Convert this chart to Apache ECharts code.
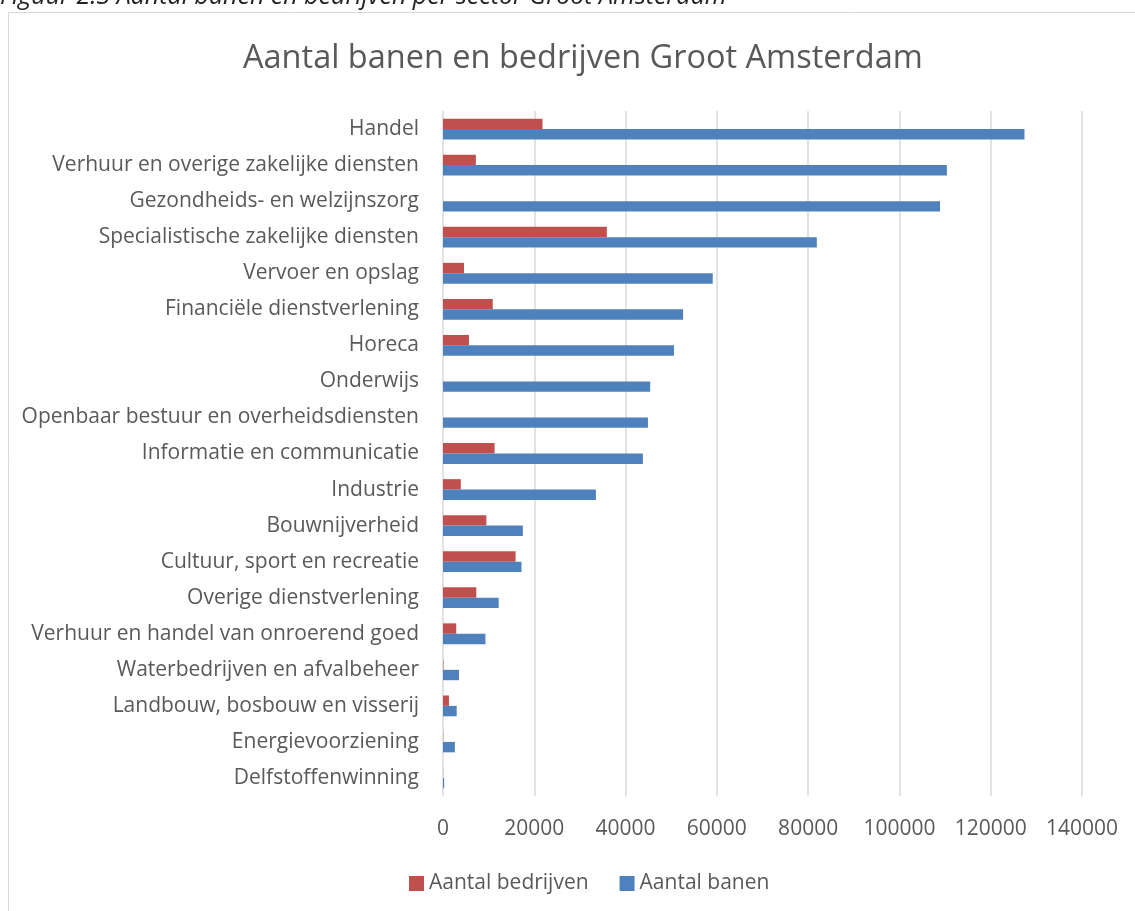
<!DOCTYPE html>
<html>
<head>
<meta charset="utf-8">
<script src="https://cdn.jsdelivr.net/npm/echarts@6/dist/echarts.min.js"></script>
<style>
  html, body { margin: 0; padding: 0; background: #fff; }
  #chart { width: 1135px; height: 911px; }
</style>
</head>
<body>
<div id="chart"></div>
<script>
const categories = [
  'Handel',
  'Verhuur en overige zakelijke diensten',
  'Gezondheids- en welzijnszorg',
  'Specialistische zakelijke diensten',
  'Vervoer en opslag',
  'Financiële dienstverlening',
  'Horeca',
  'Onderwijs',
  'Openbaar bestuur en overheidsdiensten',
  'Informatie en communicatie',
  'Industrie',
  'Bouwnijverheid',
  'Cultuur, sport en recreatie',
  'Overige dienstverlening',
  'Verhuur en handel van onroerend goed',
  'Waterbedrijven en afvalbeheer',
  'Landbouw, bosbouw en visserij',
  'Energievoorziening',
  'Delfstoffenwinning'
]
const bedrijven = [21800, 7200, 0, 35900, 4600, 10900, 5700, 0, 0, 11300, 3900, 9500, 15900, 7300, 2900, 100, 1300, 50, 20]
const banen = [127400, 110400, 108900, 81900, 59100, 52600, 50600, 45400, 44900, 43800, 33500, 17500, 17200, 12200, 9300, 3500, 3000, 2600, 250]
const xTicks = [0, 20000, 40000, 60000, 80000, 100000, 120000, 140000]

const font = '"Open Sans", "Noto Sans", sans-serif'
const textColor = '#595959'

const chart = echarts.init(document.getElementById('chart'))

const option = {
  backgroundColor: '#fff',
  animation: false,
  textStyle: { fontFamily: font },
  graphic: [
    {
      type: 'rect',
      shape: { x: 8.5, y: 12.5, width: 1200, height: 1000 },
      style: { fill: 'none', stroke: '#d9d9d9', lineWidth: 1 },
      silent: true
    },
    {
      // figure caption, cut off by the top of the page
      type: 'text',
      left: 0,
      top: -16,
      style: {
        text: 'Figuur 2.3 Aantal banen en bedrijven per sector Groot Amsterdam',
        fill: '#222',
        font: 'italic 25px ' + font
      }
    }
  ],
  title: {
    text: 'Aantal banen en bedrijven Groot Amsterdam',
    left: 238,
    top: 37,
    textStyle: { color: textColor, fontSize: 32.5, fontWeight: 'normal', fontFamily: font }
  },
  legend: {
    bottom: 12,
    left: 404,
    itemWidth: 15,
    itemHeight: 15,
    itemGap: 31,
    icon: 'rect',
    textStyle: { color: textColor, fontSize: 21, fontFamily: font },
    data: ['Aantal bedrijven', 'Aantal banen']
  },
  grid: { left: 443, right: 53, top: 111, bottom: 115, containLabel: false },
  xAxis: {
    type: 'value',
    min: xTicks[0],
    max: xTicks[xTicks.length - 1],
    interval: xTicks[1] - xTicks[0],
    axisLine: { show: false },
    axisTick: { show: false },
    axisLabel: { color: textColor, fontSize: 21, margin: 23, fontFamily: font, formatter: v => String(v) },
    splitLine: { show: true, lineStyle: { color: '#d9d9d9', width: 1.5 } }
  },
  yAxis: {
    type: 'category',
    inverse: true,
    data: categories,
    axisLine: { show: false },
    axisTick: { show: false },
    axisLabel: { color: textColor, fontSize: 21, margin: 24, fontFamily: font }
  },
  series: [
    {
      name: 'Aantal bedrijven',
      type: 'bar',
      data: bedrijven,
      barWidth: 10.4,
      barGap: '0%',
      itemStyle: { color: '#c0504d' }
    },
    {
      name: 'Aantal banen',
      type: 'bar',
      data: banen,
      barWidth: 10.4,
      barGap: '0%',
      itemStyle: { color: '#4f81bd' }
    }
  ]
}

chart.setOption(option)
window.addEventListener('resize', () => chart.resize())
</script>
</body>
</html>
